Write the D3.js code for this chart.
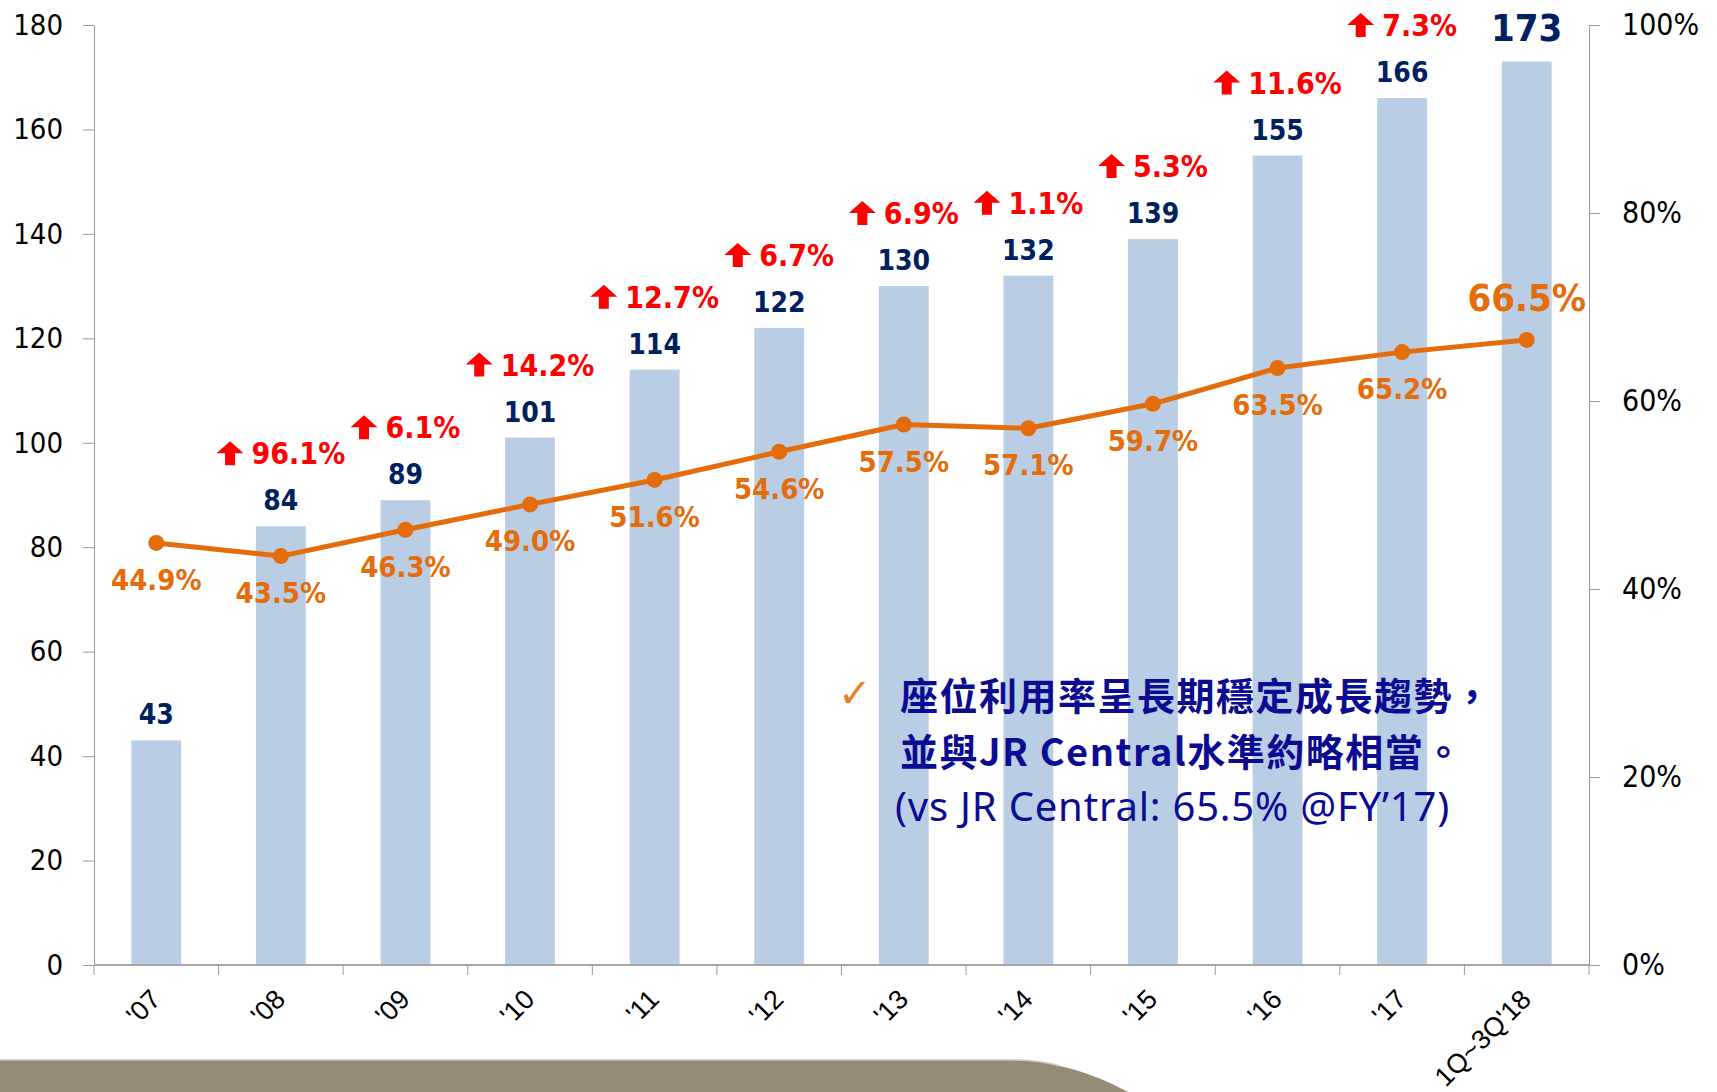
<!DOCTYPE html>
<meta charset="utf-8">
<head>
<script src="https://d3js.org/d3.v7.min.js"></script>
<style>
  body { margin: 0; background: #fff; }
  .num { font-family: "DejaVu Sans Condensed", "DejaVu Sans", sans-serif; font-stretch: condensed; }
  .axis text { font-family: "DejaVu Sans Condensed", "DejaVu Sans", sans-serif; font-stretch: condensed; font-size: 29px; fill: #000; }
  .axis line, .axis path { stroke: #9a9a9a; }
</style>
</head>
<body>
<script>
// categories and values
var categories = ["'07", "'08", "'09", "'10", "'11", "'12", "'13", "'14", "'15", "'16", "'17", "1Q~3Q'18"];
var seats = [43, 84, 89, 101, 114, 122, 130, 132, 139, 155, 166, 173];
var loadFactor = [44.9, 43.5, 46.3, 49.0, 51.6, 54.6, 57.5, 57.1, 59.7, 63.5, 65.2, 66.5];
var growth = [null, 96.1, 6.1, 14.2, 12.7, 6.7, 6.9, 1.1, 5.3, 11.6, 7.3, null];
var leftTicks = [0, 20, 40, 60, 80, 100, 120, 140, 160, 180];
var rightTicks = [0, 20, 40, 60, 80, 100];
var noteLines = ["座位利用率呈長期穩定成長趨勢，", "並與JR Central水準約略相當。", "(vs JR Central: 65.5% @FY’17)"];

var W = 1717, H = 1092;
var plot = {left: 94, right: 1589, top: 25, bottom: 965};

var svg = d3.select("body").append("svg")
    .attr("width", W)
    .attr("height", H);

// scales
var x = d3.scaleBand().domain(categories).range([plot.left, plot.right])
    .paddingInner(0.6).paddingOuter(0.3);
var y = d3.scaleLinear().domain([0, 180]).range([plot.bottom, plot.top]);
var y2 = d3.scaleLinear().domain([0, 100]).range([plot.bottom, plot.top]);

// bottom decorative band
svg.append("path")
    .attr("d", "M0,1060 L1012,1060 Q1070,1061 1128,1092 L0,1092 Z")
    .attr("fill", "#958b75");
svg.append("path")
    .attr("d", "M0,1060 L1012,1060 Q1040,1060 1060,1066")
    .attr("fill", "none")
    .attr("stroke", "#cfc6b6")
    .attr("stroke-width", 1.5);

// bars
svg.selectAll(".bar")
    .data(seats)
  .enter().append("rect")
    .attr("class", "bar")
    .attr("x", function(d, i) { return x(categories[i]); })
    .attr("width", x.bandwidth())
    .attr("y", function(d) { return y(d); })
    .attr("height", function(d) { return y(0) - y(d); })
    .attr("fill", "#b9cde5");

// left axis
svg.append("g")
    .attr("class", "axis")
    .attr("transform", "translate(" + plot.left + ",0)")
    .call(d3.axisLeft(y).tickValues(leftTicks).tickSize(11).tickSizeOuter(0).tickPadding(20));

// right axis
svg.append("g")
    .attr("class", "axis")
    .attr("transform", "translate(" + plot.right + ",0)")
    .call(d3.axisRight(y2).tickValues(rightTicks).tickSize(11).tickSizeOuter(0).tickPadding(22)
      .tickFormat(function(d) { return d + "%"; }))
  .selectAll("text").style("font-size", "30px");

// bottom axis: line and ticks at the category boundaries
var step = x.step();
var bounds = d3.range(categories.length + 1).map(function(i) { return plot.left + i * step; });
svg.append("line")
    .attr("x1", plot.left).attr("x2", plot.right)
    .attr("y1", plot.bottom).attr("y2", plot.bottom)
    .attr("stroke", "#a6a6a6").attr("stroke-width", 2);
svg.selectAll(".xtick")
    .data(bounds)
  .enter().append("line")
    .attr("x1", function(d) { return d; }).attr("x2", function(d) { return d; })
    .attr("y1", plot.bottom).attr("y2", plot.bottom + 10)
    .attr("stroke", "#9a9a9a");
svg.selectAll(".xlab")
    .data(categories)
  .enter().append("text")
    .attr("transform", function(d) {
      return "translate(" + (x(d) + x.bandwidth() / 2 + 6) + "," + (plot.bottom + 36) + ") rotate(-45)";
    })
    .style("text-anchor", "end")
    .style("font-family", "Liberation Sans, sans-serif")
    .style("font-size", "27px")
    .text(function(d) { return d; });

// load factor line
var cx = function(i) { return x(categories[i]) + x.bandwidth() / 2; };
var line = d3.line()
    .x(function(d, i) { return cx(i); })
    .y(function(d) { return y2(d); });
svg.append("path")
    .datum(loadFactor)
    .attr("d", line)
    .attr("fill", "none")
    .attr("stroke", "#e46c0a")
    .attr("stroke-width", 5)
    .attr("stroke-linejoin", "round");
svg.selectAll(".dot")
    .data(loadFactor)
  .enter().append("circle")
    .attr("cx", function(d, i) { return cx(i); })
    .attr("cy", function(d) { return y2(d); })
    .attr("r", 8)
    .attr("fill", "#e46c0a");

var last = categories.length - 1;

// load factor labels
svg.selectAll(".lf")
    .data(loadFactor)
  .enter().append("text")
    .attr("class", "num")
    .attr("x", function(d, i) { return cx(i); })
    .attr("y", function(d, i) { return i === last ? y2(d) - 29 : y2(d) + 47; })
    .style("text-anchor", "middle")
    .style("font-weight", "bold")
    .style("font-size", function(d, i) { return i === last ? "38px" : "29px"; })
    .attr("fill", "#e46c0a")
    .text(function(d) { return d.toFixed(1) + "%"; });

// seat value labels
svg.selectAll(".val")
    .data(seats)
  .enter().append("text")
    .attr("class", "num")
    .attr("x", function(d, i) { return cx(i); })
    .attr("y", function(d, i) { return y(d) - (i === last ? 21 : 16); })
    .style("text-anchor", "middle")
    .style("font-weight", "bold")
    .style("font-size", function(d, i) { return i === last ? "38px" : "28px"; })
    .attr("fill", "#002060")
    .text(function(d) { return d; });

// growth labels with red up arrows
growth.forEach(function(g, i) {
  if (g === null) return;
  var base = y(seats[i]) - 16 - 46;
  var grp = svg.append("g");
  var t = grp.append("text")
      .attr("class", "num")
      .attr("y", base)
      .style("font-weight", "bold")
      .style("font-size", "30px")
      .attr("fill", "#ff0000")
      .text(g.toFixed(1) + "%");
  var tw = t.node().getComputedTextLength();
  var aw = 27, gap = 8;
  var left = cx(i) - (aw + gap + tw) / 2;
  t.attr("x", left + aw + gap);
  var top = base - 23, bot = base + 1, mid = top + 12;
  grp.append("path")
      .attr("d", "M" + left + "," + mid + " L" + (left + aw / 2) + "," + top + " L" + (left + aw) + "," + mid +
                 " L" + (left + aw / 2 + 5) + "," + mid + " L" + (left + aw / 2 + 5) + "," + bot +
                 " L" + (left + aw / 2 - 5) + "," + bot + " L" + (left + aw / 2 - 5) + "," + mid + " Z")
      .attr("fill", "#ff0000");
});

// annotation
svg.append("text")
    .attr("x", 838).attr("y", 707)
    .style("font-family", "DejaVu Sans, sans-serif")
    .style("font-size", "40px")
    .style("font-weight", "bold")
    .attr("fill", "#f07c1a")
    .text("✓");
svg.selectAll(".note")
    .data(noteLines)
  .enter().append("text")
    .attr("x", function(d, i) { return i === 2 ? 895 : 900; })
    .attr("y", function(d, i) { return [710, 766, 821][i]; })
    .style("font-family", function(d, i) { return i === 2 ? "Noto Sans, sans-serif" : "Noto Sans CJK TC, sans-serif"; })
    .style("font-weight", function(d, i) { return i === 2 ? "normal" : "bold"; })
    .style("font-size", function(d, i) { return i === 2 ? "40px" : "38px"; })
    .style("letter-spacing", function(d, i) { return i === 2 ? "0.8px" : "1.5px"; })
    .attr("fill", "#0c0c92")
    .text(function(d) { return d; });
</script>
</body>
